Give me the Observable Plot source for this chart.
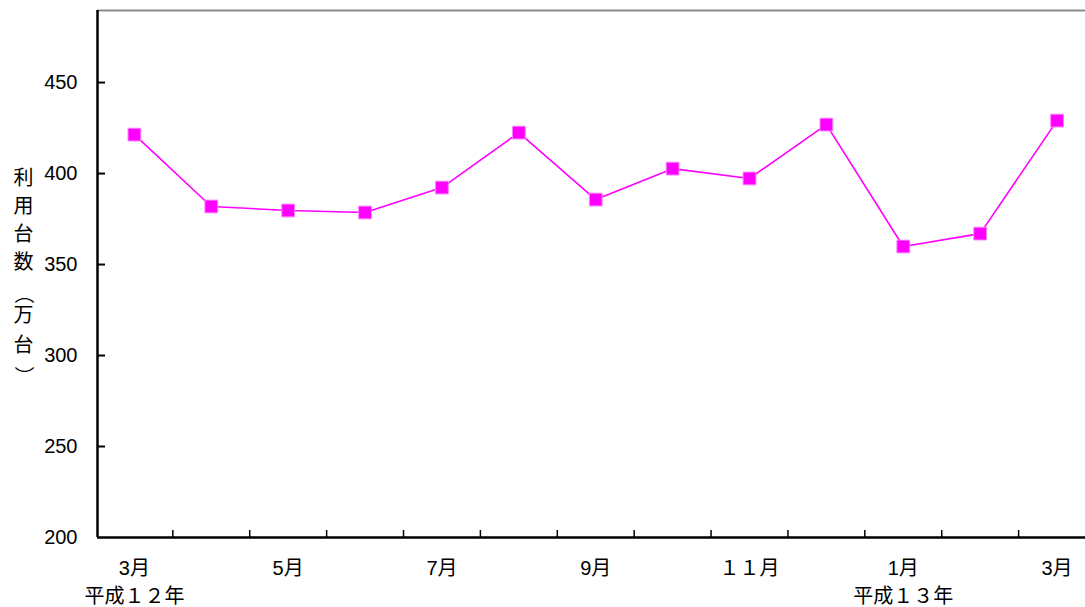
<!DOCTYPE html>
<html><head><meta charset="utf-8">
<script src="https://cdn.jsdelivr.net/npm/d3@7"></script>
<script src="https://cdn.jsdelivr.net/npm/@observablehq/plot@0.6"></script>
<style>
html,body{margin:0;padding:0;background:#fff;}
</style>
</head><body>
<div id="chart"></div>
<script>
const months = ["3月","4月","5月","6月","7月","8月","9月","10月","11月","12月","1月","2月","3月"];
const values = [421.4, 381.9, 379.7, 378.6, 392.3, 422.5, 385.7, 402.7, 397.3, 426.9, 359.9, 367.0, 429.1];
const tickLabels = ["3月\n平成１２年", "5月", "7月", "9月", "１１月", "1月\n平成１３年", "3月"];
const tickIndex = [0, 2, 4, 6, 8, 10, 12];
const yTicks = [200, 250, 300, 350, 400, 450];
const yLabelParts = ["利\n用\n台\n数", "（", "万\n台", "）"];

const data = months.map((m, i) => ({i, m, v: values[i]}));
const boundaries = months.slice(1).map((_, i) => i + 0.5);
const xMin = -0.48, xMax = 12.37;
const yMin = 200, yMax = 489.6;
const font = "'Liberation Sans', 'Noto Sans CJK JP', sans-serif";
const cjk = "'Noto Sans CJK JP', sans-serif";
const labStyle = {frameAnchor: "left", dx: -74, fontSize: 20, fontFamily: cjk, fill: "#000", textAnchor: "middle"};

const chart = Plot.plot({
  width: 1085,
  height: 607,
  marginLeft: 97,
  marginRight: 0,
  marginTop: 10,
  marginBottom: 70,
  style: {fontFamily: font, fontSize: "20px", color: "#000", background: "#fff"},
  x: {type: "linear", domain: [xMin, xMax], axis: null},
  y: {domain: [yMin, yMax], axis: null},
  marks: [
    Plot.ruleY([yMax], {stroke: "#8c8c8c", strokeWidth: 2}),
    Plot.axisY({ticks: yTicks, tickSize: 0, tickPadding: 20, fontSize: 20, fill: "#000", label: null}),
    Plot.axisY({ticks: yTicks.slice(1), tickSize: 8, dx: 8, tickFormat: () => "", stroke: "#000", strokeWidth: 2, label: null}),
    Plot.axisX({ticks: boundaries, tickSize: 7, dy: -7, tickFormat: () => "", stroke: "#000", strokeWidth: 1.5, label: null}),
    Plot.axisX({ticks: tickIndex, tickSize: 0, tickPadding: 18, tickFormat: (d) => tickLabels[tickIndex.indexOf(d)], fontSize: 20, lineHeight: 1.4, fill: "#000", label: null}),
    Plot.ruleX([xMin], {stroke: "#000", strokeWidth: 2.5}),
    Plot.ruleY([yMin], {stroke: "#000", strokeWidth: 2.5}),
    Plot.line(data, {x: "i", y: "v", stroke: "#ff00ff", strokeWidth: 1.6}),
    Plot.dot(data, {x: "i", y: "v", symbol: "square", r: 7.2, fill: "#ff00ff", stroke: "#ff80ff", strokeWidth: 1}),
    Plot.text([yLabelParts[0]], {...labStyle, text: (d) => d, dy: -55.5, lineHeight: 1.4}),
    Plot.text([yLabelParts[1]], {...labStyle, text: (d) => d, dy: 20, rotate: 90}),
    Plot.text([yLabelParts[2]], {...labStyle, text: (d) => d, dy: 53.5, lineHeight: 1.5}),
    Plot.text([yLabelParts[3]], {...labStyle, text: (d) => d, dy: 102, rotate: 90})
  ]
});
document.getElementById("chart").appendChild(chart);
</script>
</body></html>
